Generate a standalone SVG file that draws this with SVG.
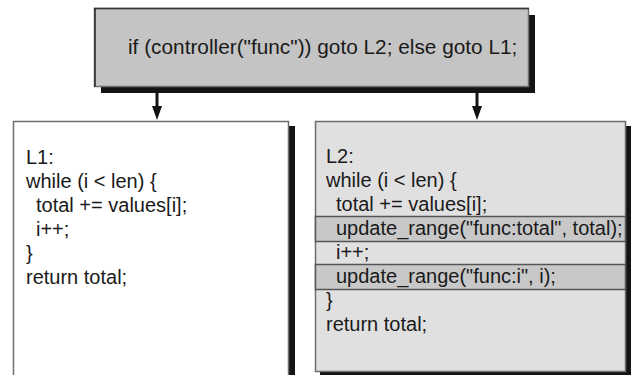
<svg xmlns="http://www.w3.org/2000/svg" width="632" height="375" viewBox="0 0 632 375">
  <style>
    .code { font-family: "Liberation Sans", Arial, sans-serif; font-size: 20px; fill: #1a1a1a; }
    .shadow { fill: #141414; }
    .box { stroke: #6e6e6e; stroke-width: 1.5; }
    .band { fill: #c8c8c8; stroke: #555555; stroke-width: 1.5; }
    .conn { stroke: #141414; stroke-width: 3; fill: none; }
    .head { fill: #141414; }
  </style>

  <!-- condition box -->
  <g id="condition">
    <rect class="shadow" x="101" y="15" width="434" height="78"/>
    <rect class="box" x="94.5" y="8.5" width="434" height="78" fill="#c4c4c4"/>
    <line x1="94" y1="8.5" x2="529" y2="8.5" stroke="#3a3a3a" stroke-width="1.5"/>
    <line x1="95" y1="8" x2="95" y2="87" stroke="#2a2a2a" stroke-width="1.5"/>
    <text class="code" x="128" y="54" style="font-size:20.8px">if (controller("func")) goto L2; else goto L1;</text>
  </g>

  <!-- connectors -->
  <g id="connectors">
    <line class="conn" x1="157" y1="93" x2="157" y2="106"/>
    <path class="head" d="M152,106 L162,106 L157,120 Z"/>
    <line class="conn" x1="477" y1="93" x2="477" y2="106"/>
    <path class="head" d="M472,106 L482,106 L477,120 Z"/>
  </g>

  <!-- original loop -->
  <g id="L1">
    <rect class="shadow" x="19" y="126" width="276" height="260"/>
    <rect class="box" x="13.5" y="121.5" width="275" height="255" fill="#ffffff"/>
    <text class="code" x="26" y="164">L1:</text>
    <text class="code" x="26" y="188">while (i &lt; len) {</text>
    <text class="code" x="36" y="212">total += values[i];</text>
    <text class="code" x="36" y="236">i++;</text>
    <text class="code" x="26" y="260">}</text>
    <text class="code" x="26" y="284">return total;</text>
  </g>

  <!-- instrumented loop -->
  <g id="L2">
    <rect class="shadow" x="320" y="126" width="311" height="249"/>
    <rect class="box" x="315.5" y="121.5" width="310" height="250" fill="#e0e0e0"/>
    <rect class="band" x="315.5" y="216.5" width="310" height="25"/>
    <rect class="band" x="315.5" y="264.5" width="310" height="25"/>
    <text class="code" x="326" y="163">L2:</text>
    <text class="code" x="326" y="187">while (i &lt; len) {</text>
    <text class="code" x="336" y="211">total += values[i];</text>
    <text class="code" x="336" y="235">update_range("func:total", total);</text>
    <text class="code" x="336" y="259">i++;</text>
    <text class="code" x="336" y="283">update_range("func:i", i);</text>
    <text class="code" x="326" y="307">}</text>
    <text class="code" x="326" y="331">return total;</text>
  </g>
</svg>
